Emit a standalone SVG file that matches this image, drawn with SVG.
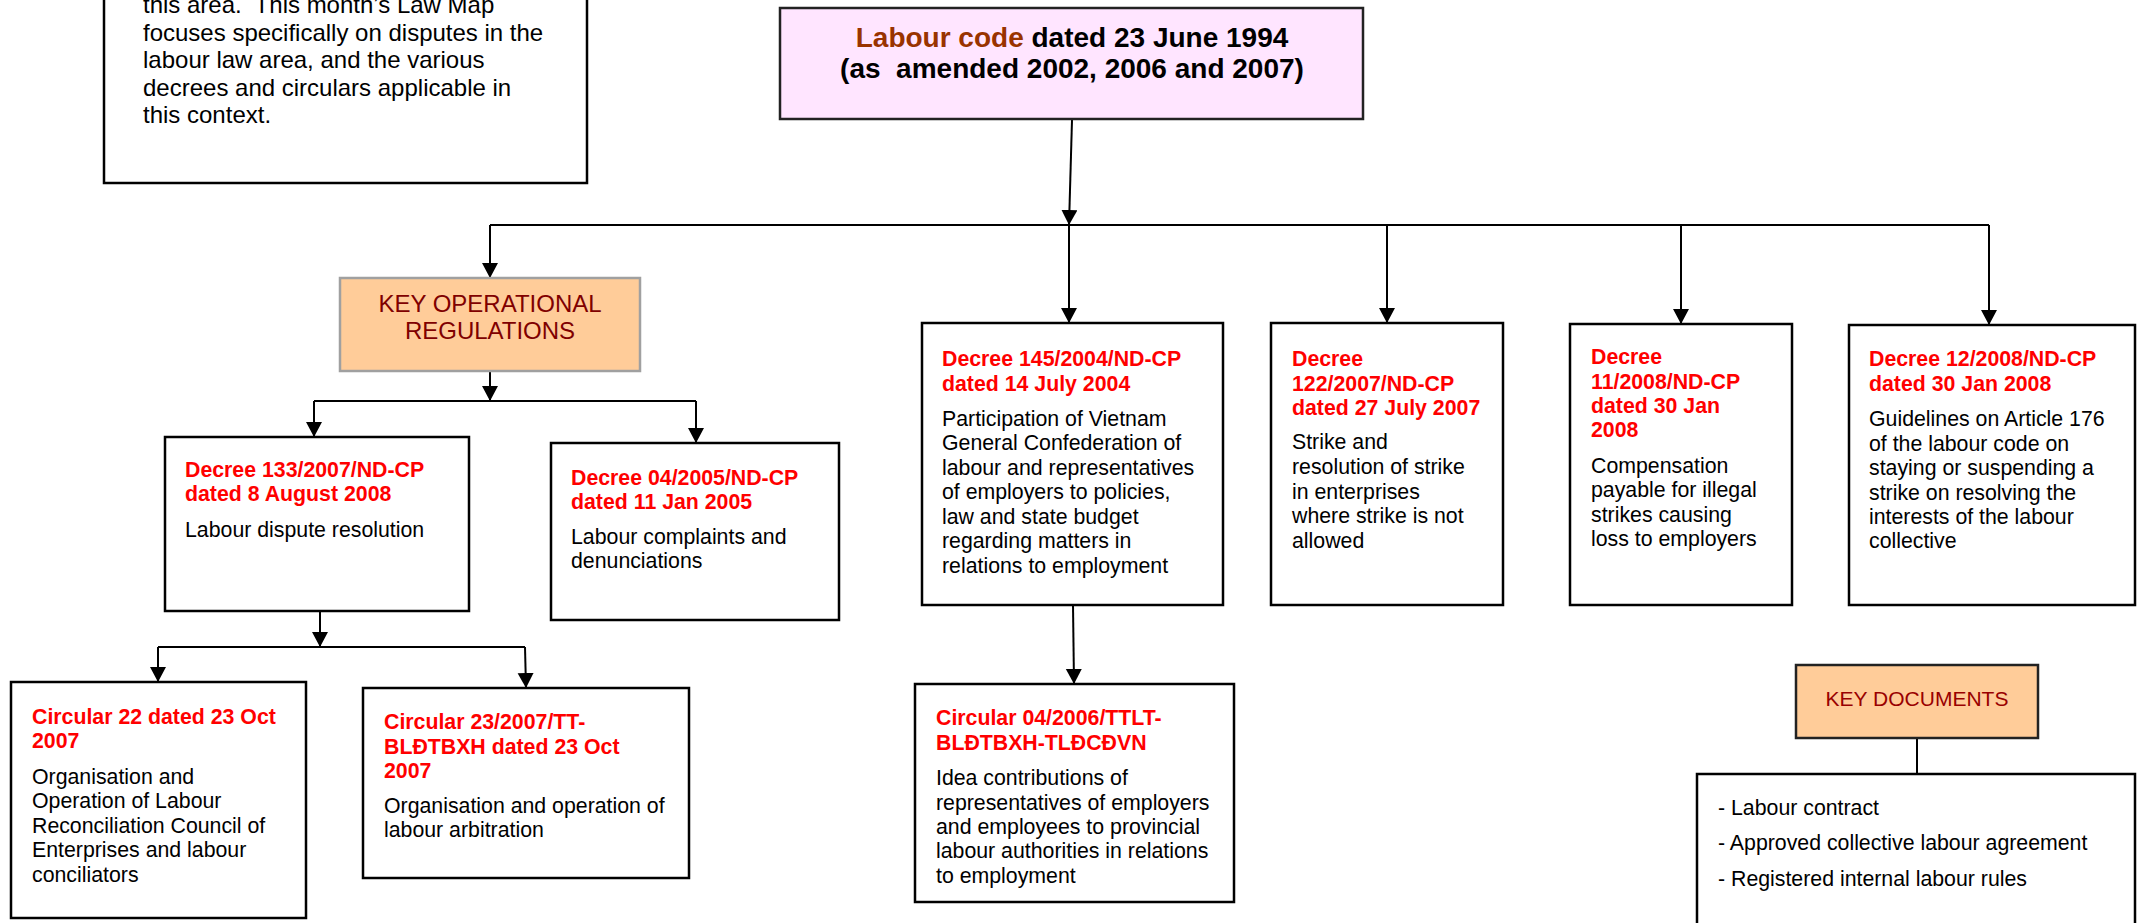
<svg xmlns="http://www.w3.org/2000/svg" width="2137" height="923" viewBox="0 0 2137 923">
<style>
text{font-family:"Liberation Sans",Arial,sans-serif}
.box{fill:#fff;stroke:#000;stroke-width:2.5}
.pink{fill:#FFE5FF;stroke:#222;stroke-width:2.5}
.orgA{fill:#FFCC99;stroke:#A0A0A0;stroke-width:2.5}
.orgB{fill:#FFCC99;stroke:#222;stroke-width:2.5}
.h{font-size:21.3px;font-weight:bold;fill:#FF0000}
.b{font-size:21.3px;fill:#000}
.intro{font-size:24px;fill:#000}
.title{font-size:28px;font-weight:bold;fill:#000;text-anchor:middle}
.key{font-size:24px;fill:#800000;text-anchor:middle}
.key2{font-size:21px;fill:#990000;text-anchor:middle}
.ln{fill:none;stroke:#000;stroke-width:2}
.arr{fill:none;stroke:#000;stroke-width:2;marker-end:url(#ah)}
</style>
<defs>
<marker id="ah" markerUnits="userSpaceOnUse" markerWidth="16" markerHeight="17" refX="15" refY="8" orient="auto">
<path d="M0,0 L15,8 L0,16 z" fill="#000"/>
</marker>
</defs>

<g id="connectors">
<path class="arr" d="M1072,120 L1069,225"/>
<path class="ln" d="M490,225 H1989"/>
<path class="arr" d="M490,225 V278"/>
<path class="arr" d="M1069,225 V323"/>
<path class="arr" d="M1387,225 V323"/>
<path class="arr" d="M1681,225 V324"/>
<path class="arr" d="M1989,225 V325"/>
<path class="arr" d="M490,372 V401"/>
<path class="ln" d="M314,401 H696"/>
<path class="arr" d="M314,401 V437"/>
<path class="arr" d="M696,401 V443"/>
<path class="arr" d="M320,611 V647"/>
<path class="ln" d="M158,647 H525"/>
<path class="arr" d="M158,647 V682"/>
<path class="arr" d="M525,647 L526,688"/>
<path class="arr" d="M1073,605 L1074,684"/>
<path class="ln" d="M1917,738 V774"/>
</g>

<g id="intro">
<rect class="box" x="104" y="-40" width="483" height="223"/>
<text class="intro" x="143" y="13" xml:space="preserve">this area.  This month’s Law Map</text>
<text class="intro" x="143" y="41">focuses specifically on disputes in the</text>
<text class="intro" x="143" y="68">labour law area, and the various</text>
<text class="intro" x="143" y="96">decrees and circulars applicable in</text>
<text class="intro" x="143" y="123">this context.</text>
</g>

<g id="labour-code">
<rect class="pink" x="780" y="8" width="583" height="111"/>
<text class="title" x="1072" y="47"><tspan fill="#993300">Labour code</tspan> dated 23 June 1994</text>
<text class="title" x="1072" y="78" xml:space="preserve">(as  amended 2002, 2006 and 2007)</text>
</g>

<g id="key-operational">
<rect class="orgA" x="340" y="278" width="300" height="93"/>
<text class="key" x="490" y="312">KEY OPERATIONAL</text>
<text class="key" x="490" y="339">REGULATIONS</text>
</g>

<g id="decree-133">
<rect class="box" x="165" y="437" width="304" height="174"/>
<text class="h" x="185" y="477">Decree 133/2007/ND-CP</text>
<text class="h" x="185" y="501">dated 8 August 2008</text>
<text class="b" x="185" y="537">Labour dispute resolution</text>
</g>

<g id="decree-04">
<rect class="box" x="551" y="443" width="288" height="177"/>
<text class="h" x="571" y="485">Decree 04/2005/ND-CP</text>
<text class="h" x="571" y="509">dated 11 Jan 2005</text>
<text class="b" x="571" y="544">Labour complaints and</text>
<text class="b" x="571" y="568">denunciations</text>
</g>

<g id="circular-22">
<rect class="box" x="11" y="682" width="295" height="236"/>
<text class="h" x="32" y="724">Circular 22 dated 23 Oct</text>
<text class="h" x="32" y="748">2007</text>
<text class="b" x="32" y="784">Organisation and</text>
<text class="b" x="32" y="808">Operation of Labour</text>
<text class="b" x="32" y="833">Reconciliation Council of</text>
<text class="b" x="32" y="857">Enterprises and labour</text>
<text class="b" x="32" y="882">conciliators</text>
</g>

<g id="circular-23">
<rect class="box" x="363" y="688" width="326" height="190"/>
<text class="h" x="384" y="729">Circular 23/2007/TT-</text>
<text class="h" x="384" y="754">BLĐTBXH dated 23 Oct</text>
<text class="h" x="384" y="778">2007</text>
<text class="b" x="384" y="813">Organisation and operation of</text>
<text class="b" x="384" y="837">labour arbitration</text>
</g>

<g id="decree-145">
<rect class="box" x="922" y="323" width="301" height="282"/>
<text class="h" x="942" y="366">Decree 145/2004/ND-CP</text>
<text class="h" x="942" y="391">dated 14 July 2004</text>
<text class="b" x="942" y="426">Participation of Vietnam</text>
<text class="b" x="942" y="450">General Confederation of</text>
<text class="b" x="942" y="475">labour and representatives</text>
<text class="b" x="942" y="499">of employers to policies,</text>
<text class="b" x="942" y="524">law and state budget</text>
<text class="b" x="942" y="548">regarding matters in</text>
<text class="b" x="942" y="573">relations to employment</text>
</g>

<g id="circular-04">
<rect class="box" x="915" y="684" width="319" height="218"/>
<text class="h" x="936" y="725">Circular 04/2006/TTLT-</text>
<text class="h" x="936" y="750">BLĐTBXH-TLĐCĐVN</text>
<text class="b" x="936" y="785">Idea contributions of</text>
<text class="b" x="936" y="810">representatives of employers</text>
<text class="b" x="936" y="834">and employees to provincial</text>
<text class="b" x="936" y="858">labour authorities in relations</text>
<text class="b" x="936" y="883">to employment</text>
</g>

<g id="decree-122">
<rect class="box" x="1271" y="323" width="232" height="282"/>
<text class="h" x="1292" y="366">Decree</text>
<text class="h" x="1292" y="391">122/2007/ND-CP</text>
<text class="h" x="1292" y="415">dated 27 July 2007</text>
<text class="b" x="1292" y="449">Strike and</text>
<text class="b" x="1292" y="474">resolution of strike</text>
<text class="b" x="1292" y="499">in enterprises</text>
<text class="b" x="1292" y="523">where strike is not</text>
<text class="b" x="1292" y="548">allowed</text>
</g>

<g id="decree-11">
<rect class="box" x="1570" y="324" width="222" height="281"/>
<text class="h" x="1591" y="364">Decree</text>
<text class="h" x="1591" y="389">11/2008/ND-CP</text>
<text class="h" x="1591" y="413">dated 30 Jan</text>
<text class="h" x="1591" y="437">2008</text>
<text class="b" x="1591" y="473">Compensation</text>
<text class="b" x="1591" y="497">payable for illegal</text>
<text class="b" x="1591" y="522">strikes causing</text>
<text class="b" x="1591" y="546">loss to employers</text>
</g>

<g id="decree-12">
<rect class="box" x="1849" y="325" width="286" height="280"/>
<text class="h" x="1869" y="366">Decree 12/2008/ND-CP</text>
<text class="h" x="1869" y="391">dated 30 Jan 2008</text>
<text class="b" x="1869" y="426">Guidelines on Article 176</text>
<text class="b" x="1869" y="451">of the labour code on</text>
<text class="b" x="1869" y="475">staying or suspending a</text>
<text class="b" x="1869" y="500">strike on resolving the</text>
<text class="b" x="1869" y="524">interests of the labour</text>
<text class="b" x="1869" y="548">collective</text>
</g>

<g id="key-documents">
<rect class="orgB" x="1796" y="665" width="242" height="73"/>
<text class="key2" x="1917" y="706">KEY DOCUMENTS</text>
</g>

<g id="documents-list">
<rect class="box" x="1697" y="774" width="438" height="170"/>
<text class="b" x="1718" y="815">- Labour contract</text>
<text class="b" x="1718" y="850">- Approved collective labour agreement</text>
<text class="b" x="1718" y="886">- Registered internal labour rules</text>
</g>
</svg>
